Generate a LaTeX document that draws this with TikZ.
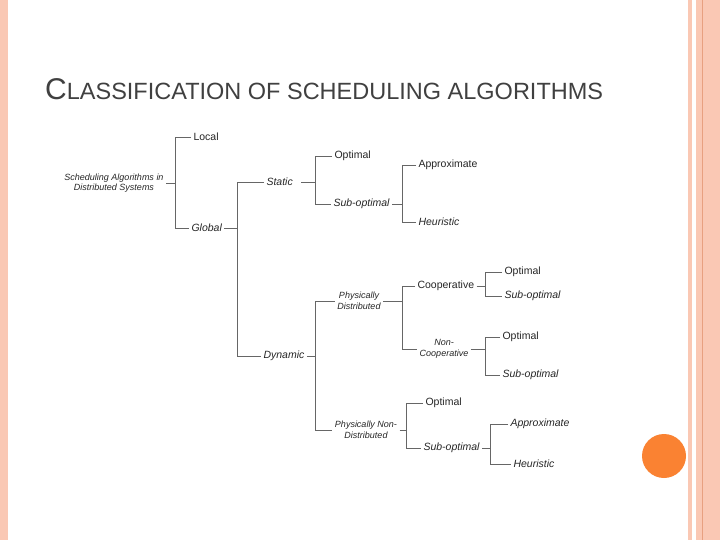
\documentclass[tikz,border=0pt]{standalone}
\usepackage{fontspec}
\setmainfont{Liberation Sans}
\definecolor{pale}{HTML}{FAC8B4}
\definecolor{pdark}{HTML}{E8A080}
\definecolor{dot}{HTML}{FA8232}
\definecolor{ln}{HTML}{666666}
\begin{document}
\begin{tikzpicture}[x=1pt,y=-1pt,
  lab/.style={inner sep=0pt,outer sep=2.5pt,font=\fontsize{10.5}{11}\selectfont,text=black!85,align=center},
  it/.style={lab,font=\fontsize{10.5}{11}\selectfont\itshape},
  sm/.style={lab,font=\fontsize{9}{10.5}\selectfont\itshape},
  br/.style={draw=ln,line width=0.8pt}]
\useasboundingbox (0,0) rectangle (720,540);
\fill[white] (0,0) rectangle (720,540);
\fill[pale] (0,0) rectangle (8,540);
\fill[pale] (688,0) rectangle (692,540);
\fill[pale] (696,0) rectangle (720,540);
\draw[pdark,line width=0.8pt] (702,0) -- (702,540);
\fill[dot] (664,456) circle (22);
\node[anchor=base west,inner sep=0pt,text=black!75] (title) at (45,100)
  {\fontsize{30}{32}\selectfont C\fontsize{23.5}{26}\selectfont LASSIFICATION OF SCHEDULING ALGORITHMS};
% branch x positions
\coordinate (v1) at (175,0);
\coordinate (v2) at (237,0);
\coordinate (v3) at (315,0);
\coordinate (v4) at (402,0);
\coordinate (v5) at (485,0);
\coordinate (v6) at (406,0);
\coordinate (v7) at (490,0);
% nodes
\node[sm] (root) at (114,183) {Scheduling Algorithms in\\Distributed Systems};
\node[lab,anchor=west] (local) at (191,137) {Local};
\node[it,anchor=west] (global) at (189,228) {Global};
\node[it,anchor=west] (static) at (264,182) {Static};
\node[lab,anchor=west] (sopt) at (332,156) {Optimal};
\node[it,anchor=west] (ssub) at (331,204) {Sub-optimal};
\node[lab,anchor=west] (sapp) at (416,165) {Approximate};
\node[it,anchor=west] (sheu) at (416,222) {Heuristic};
\node[it,anchor=west] (dyn) at (261,356) {Dynamic};
\node[sm] (pd) at (359,301) {Physically\\Distributed};
\node[sm] (pnd) at (366,430) {Physically Non-\\Distributed};
\node[lab,anchor=west] (coop) at (415,286) {Cooperative};
\node[sm] (ncoop) at (444,349) {Non-\\Cooperative};
\node[lab,anchor=west] (copt) at (502,272) {Optimal};
\node[it,anchor=west] (csub) at (502,296) {Sub-optimal};
\node[lab,anchor=west] (nopt) at (500,337) {Optimal};
\node[it,anchor=west] (nsub) at (500,375) {Sub-optimal};
\node[lab,anchor=west] (popt) at (423,403) {Optimal};
\node[it,anchor=west] (psub) at (421,448) {Sub-optimal};
\node[it,anchor=west] (papp) at (508,424) {Approximate};
\node[it,anchor=west] (pheu) at (511,464) {Heuristic};
% connectors
\draw[br] (root.east) -- (root.east -| v1);
\draw[br] (local.west) -- (local.west -| v1) |- (global.west);
\draw[br] (global.east) -- (global.east -| v2);
\draw[br] (static.west) -- (static.west -| v2) |- (dyn.west);
\draw[br] (static.east) ++(6,0) -- (static.east -| v3);
\draw[br] (sopt.west) -- (sopt.west -| v3) |- (ssub.west);
\draw[br] (ssub.east) -- (ssub.east -| v4);
\draw[br] (sapp.west) -- (sapp.west -| v4) |- (sheu.west);
\draw[br] (dyn.east) -- (dyn.east -| v3);
\draw[br] (pd.west) -- (pd.west -| v3) |- (pnd.west);
\draw[br] (pd.east) -- (pd.east -| v4);
\draw[br] (coop.west) -- (coop.west -| v4) |- (ncoop.west);
\draw[br] (coop.east) -- (coop.east -| v5);
\draw[br] (copt.west) -- (copt.west -| v5) |- (csub.west);
\draw[br] (ncoop.east) -- (ncoop.east -| v5);
\draw[br] (nopt.west) -- (nopt.west -| v5) |- (nsub.west);
\draw[br] (pnd.east) -- (pnd.east -| v6);
\draw[br] (popt.west) -- (popt.west -| v6) |- (psub.west);
\draw[br] (psub.east) -- (psub.east -| v7);
\draw[br] (papp.west) -- (papp.west -| v7) |- (pheu.west);
\end{tikzpicture}
\end{document}
